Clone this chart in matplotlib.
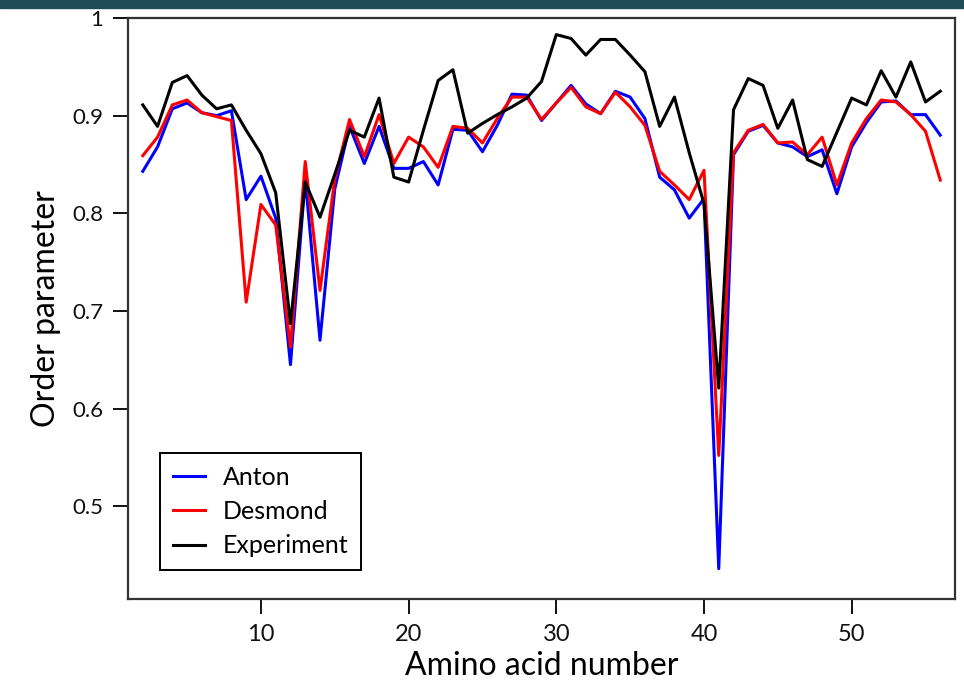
# order parameter per residue: Anton vs Desmond vs experiment

import numpy as np
import matplotlib
matplotlib.use('Agg')
import matplotlib.pyplot as plt
from matplotlib.patches import Rectangle

residues = list(range(2, 57))

anton = [0.843, 0.868, 0.907, 0.913, 0.903, 0.900, 0.905, 0.814, 0.838, 0.795,
         0.645, 0.835, 0.670, 0.825, 0.889, 0.851, 0.889, 0.846, 0.846, 0.853,
         0.829, 0.886, 0.885, 0.863, 0.890, 0.922, 0.921, 0.895, 0.913, 0.931,
         0.912, 0.902, 0.925, 0.919, 0.897, 0.837, 0.824, 0.795, 0.815, 0.436,
         0.860, 0.884, 0.890, 0.872, 0.868, 0.858, 0.865, 0.820, 0.868, 0.893,
         0.914, 0.915, 0.901, 0.901, 0.880]

desmond = [0.859, 0.878, 0.911, 0.916, 0.903, 0.899, 0.895, 0.709, 0.809, 0.788,
           0.663, 0.853, 0.721, 0.835, 0.896, 0.858, 0.901, 0.851, 0.878, 0.868,
           0.847, 0.889, 0.887, 0.872, 0.897, 0.919, 0.919, 0.896, 0.913, 0.929,
           0.909, 0.902, 0.924, 0.909, 0.890, 0.843, 0.829, 0.814, 0.844, 0.552,
           0.862, 0.885, 0.891, 0.872, 0.873, 0.860, 0.878, 0.829, 0.872, 0.897,
           0.916, 0.914, 0.901, 0.884, 0.834]

experiment = [0.911, 0.889, 0.934, 0.941, 0.921, 0.907, 0.911, 0.885, 0.861, 0.821,
              0.687, 0.832, 0.796, 0.840, 0.885, 0.878, 0.918, 0.837, 0.832, 0.885,
              0.936, 0.947, 0.882, 0.892, 0.901, 0.909, 0.918, 0.935, 0.983, 0.979,
              0.962, 0.978, 0.978, 0.962, 0.945, 0.889, 0.919, 0.862, 0.810, 0.621,
              0.906, 0.938, 0.931, 0.887, 0.916, 0.855, 0.848, 0.883, 0.918, 0.911,
              0.946, 0.919, 0.955, 0.914, 0.925]

xticks = [10, 20, 30, 40, 50]
yticks = [0.5, 0.6, 0.7, 0.8, 0.9, 1.0]
ytick_labels = ['0.5', '0.6', '0.7', '0.8', '0.9', '1']

plt.rcParams['font.family'] = ['Lato', 'DejaVu Sans']

fig = plt.figure(figsize=(9.64, 6.84), dpi=100)
ax = fig.add_axes([0.1328, 0.1243, 0.8579, 0.8494])

# thin dark band along the top edge of the image
fig.patches.append(Rectangle((0, 0.988), 1, 0.012, transform=fig.transFigure,
                             color='#1f4b57', zorder=0))

ax.plot(residues, anton, color='#0000ff', lw=2.2, label='Anton')
ax.plot(residues, desmond, color='#ff0000', lw=2.2, label='Desmond')
ax.plot(residues, experiment, color='black', lw=2.2, label='Experiment')

ax.set_xlim(1, 57)
ax.set_ylim(0.405, 1.0)
ax.set_xticks(xticks)
ax.set_yticks(yticks)
ax.set_yticklabels(ytick_labels)
ax.tick_params(direction='out', length=11, width=1.4, labelsize=16, pad=7,
               colors='#111111')
ax.tick_params(axis='x', labelsize=17)

for s in ax.spines.values():
    s.set_linewidth(1.6)
    s.set_color('#333333')

ax.set_xlabel('Amino acid number', fontsize=23, labelpad=4)
ax.set_ylabel('Order parameter', fontsize=23, labelpad=8)

leg = ax.legend(loc='lower left', bbox_to_anchor=(0.039, 0.05), fontsize=18,
                handlelength=1.3, handletextpad=0.7, borderpad=0.5,
                labelspacing=0.45, borderaxespad=0, fancybox=False, framealpha=1)
leg.get_frame().set_edgecolor('black')
leg.get_frame().set_linewidth(1.4)

fig.savefig('out.png', dpi=100)
